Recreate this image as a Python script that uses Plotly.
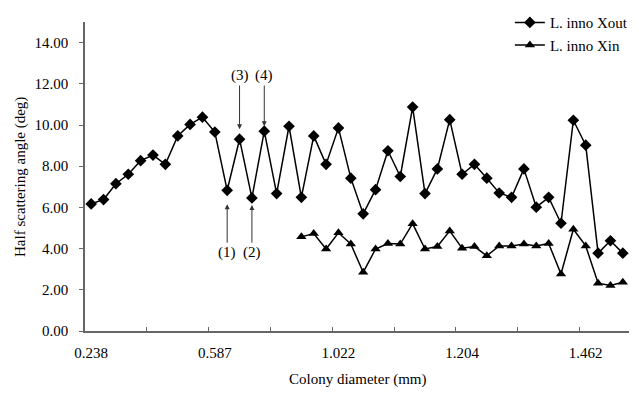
import plotly.graph_objects as go

# category index (44 colony diameters, only some labeled)
categories = list(range(1, 45))
tick_labels = ["0.238", "0.587", "1.022", "1.204", "1.462"]
tick_label_cats = [1, 11, 21, 31, 41]

xout = [6.17, 6.38, 7.15, 7.61, 8.27, 8.54, 8.09, 9.47, 10.03, 10.38,
        9.66, 6.83, 9.31, 6.46, 9.70, 6.67, 9.94, 6.49, 9.47, 8.09,
        9.86, 7.42, 5.69, 6.86, 8.75, 7.50, 10.87, 6.67, 7.87, 10.26,
        7.61, 8.09, 7.42, 6.70, 6.49, 7.87, 6.01, 6.49, 5.23, 10.23,
        9.02, 3.78, 4.38, 3.78]

xin_start = 18
xin = [4.57, 4.73, 3.98, 4.77, 4.22, 2.85, 3.98, 4.25, 4.22, 5.21,
       3.98, 4.10, 4.86, 4.02, 4.10, 3.65, 4.13, 4.13, 4.22, 4.13,
       4.25, 2.77, 4.94, 4.13, 2.32, 2.21, 2.37]

# annotation markers: (label, category, text y level, standoff)
notes = [("(1)", 12, 3.8, 14), ("(2)", 14, 3.8, 7), ("(3)", 13, 12.4, 10), ("(4)", 15, 12.4, 5)]

FONT = "Liberation Serif, Times New Roman, serif"
AX = "#666666"

fig = go.Figure()
fig.add_trace(go.Scatter(
    x=categories, y=xout, mode="lines+markers", name="L. inno Xout",
    line=dict(color="black", width=1.5),
    marker=dict(symbol="diamond", size=9, color="black")))
fig.add_trace(go.Scatter(
    x=categories[xin_start - 1:], y=xin, mode="lines+markers", name="L. inno Xin",
    line=dict(color="black", width=1.5),
    marker=dict(symbol="triangle-up", size=9, color="black")))

for lab, cat, ty, so in notes:
    fig.add_annotation(x=cat, y=xout[cat - 1], ax=cat, ay=ty, axref="x", ayref="y",
                       text=lab, showarrow=True, arrowhead=2, arrowsize=1, arrowwidth=1,
                       arrowcolor="#333", standoff=so, font=dict(family=FONT, size=15, color="black"))

fig.add_annotation(text="Half scattering angle (deg)", textangle=-90, xref="paper", yref="paper",
                   x=(20 - 85) / 548, y=0.5, xanchor="center", yanchor="middle", showarrow=False,
                   font=dict(family=FONT, size=15, color="black"))
fig.add_annotation(text="Colony diameter (mm)", xref="paper", yref="paper",
                   x=0.5, y=(331 - 380) / 313, xanchor="center", yanchor="middle", showarrow=False,
                   font=dict(family=FONT, size=15, color="black"))

fig.update_layout(
    width=639, height=393,
    margin=dict(l=85, r=6, t=18, b=62),
    paper_bgcolor="white", plot_bgcolor="white",
    font=dict(family=FONT, size=15, color="black"),
    showlegend=True,
    legend=dict(x=(513 - 85) / 548, y=(331 - 2) / 313, xanchor="left", yanchor="top",
                bgcolor="rgba(0,0,0,0)", font=dict(family=FONT, size=15)),
    xaxis=dict(range=[0.5, 44.5], tickmode="array", tickvals=tick_label_cats, ticktext=tick_labels,
               ticks="", showline=True, linecolor=AX, linewidth=1.5, showgrid=False, zeroline=False,
               ticklabelstandoff=7,
               minor=dict(tickmode="array", tickvals=[5.5 + 5 * i for i in range(8)],
                          ticks="inside", ticklen=4, tickcolor=AX, tickwidth=1, showgrid=False)),
    yaxis=dict(range=[0, 15], tickmode="array", tickvals=[0, 2, 4, 6, 8, 10, 12, 14],
               tickformat=".2f", ticks="outside", ticklen=4, tickcolor=AX,
               showline=True, linecolor=AX, linewidth=1.5, showgrid=False, zeroline=False,
               ticklabelstandoff=8),
)

fig.write_html("out.html", config={"displayModeBar": False},
               post_script="document.body.style.margin='0';document.body.style.padding='0';")
